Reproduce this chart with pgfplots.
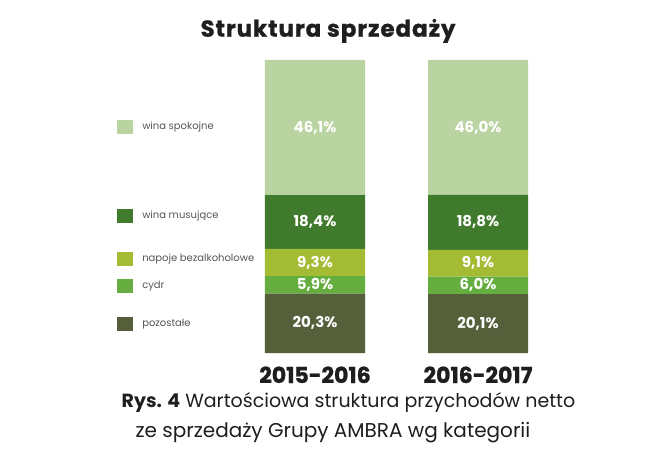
\documentclass[border=0pt]{standalone}
\usepackage{fontspec}
\setmainfont{Poppins}
\usepackage{pgfplots}
\pgfplotsset{compat=1.18}
\definecolor{cspok}{RGB}{185,212,160}
\definecolor{cmus}{RGB}{64,122,44}
\definecolor{cnap}{RGB}{163,188,52}
\definecolor{ccyd}{RGB}{102,173,64}
\definecolor{cpoz}{RGB}{85,95,58}
\definecolor{ctxt}{RGB}{30,30,30}
\definecolor{cleg}{RGB}{85,85,85}
\tikzset{
  seglbl/.style={text=white, font=\bfseries\fontsize{15bp}{17bp}\selectfont, anchor=center, inner sep=0pt},
  legbox/.style={fill=#1, draw=none, minimum width=16bp, minimum height=14bp, inner sep=0pt, anchor=center},
  leglbl/.style={anchor=west, inner sep=0pt, text=cleg, font=\fontsize{10bp}{12bp}\selectfont},
}
\begin{document}
\begin{tikzpicture}
\begin{axis}[
  ybar stacked, bar width=100bp,
  scale only axis, width=326bp, height=293bp,
  xmin=-0.5, xmax=1.5, ymin=0, ymax=100,
  axis line style={draw=none},
  xtick={0,1}, xticklabels={2015-2016,2016-2017},
  ytick=\empty, major tick length=0pt,
  xticklabel style={anchor=base, yshift=-30bp, text=ctxt, font=\bfseries\fontsize{22bp}{26bp}\selectfont\addfontfeature{FakeBold=1.2}},
  clip=false,
]
\addplot[fill=cpoz, draw=none] coordinates {(0,20.3) (1,20.1)};
\addplot[fill=ccyd, draw=none] coordinates {(0,5.9) (1,6.0)};
\addplot[fill=cnap, draw=none] coordinates {(0,9.3) (1,9.1)};
\addplot[fill=cmus, draw=none] coordinates {(0,18.4) (1,18.8)};
\addplot[fill=cspok, draw=none] coordinates {(0,46.1) (1,46.0)};
\coordinate (O) at (axis cs:-0.5,0);
\coordinate (a1) at (axis cs:0,10.15);
\coordinate (a2) at (axis cs:0,23.25);
\coordinate (a3) at (axis cs:0,30.85);
\coordinate (a4) at (axis cs:0,44.7);
\coordinate (a5) at (axis cs:0,76.95);
\coordinate (b1) at (axis cs:1,10.05);
\coordinate (b2) at (axis cs:1,23.1);
\coordinate (b3) at (axis cs:1,30.65);
\coordinate (b4) at (axis cs:1,44.6);
\coordinate (b5) at (axis cs:1,77);
\node[legbox=cspok] at (axis cs:-1.166,77.0) {};
\node[legbox=cmus] at (axis cs:-1.166,46.8) {};
\node[legbox=cnap] at (axis cs:-1.166,32.1) {};
\node[legbox=ccyd] at (axis cs:-1.166,22.9) {};
\node[legbox=cpoz] at (axis cs:-1.166,9.9) {};
\node[leglbl] at (axis cs:-1.061,77.0) {wina spokojne};
\node[leglbl] at (axis cs:-1.061,46.8) {wina musujące};
\node[leglbl] at (axis cs:-1.061,32.1) {napoje bezalkoholowe};
\node[leglbl] at (axis cs:-1.061,22.9) {cydr};
\node[leglbl] at (axis cs:-1.061,9.9) {pozostałe};
\node[anchor=base, inner sep=0pt, text=ctxt, font=\bfseries\fontsize{23bp}{27bp}\selectfont\addfontfeature{LetterSpace=4,FakeBold=1}] at (axis cs:0.08,107.95) {Struktura sprzedaży};
\node[anchor=base, inner sep=0pt, text=ctxt, font=\fontsize{19bp}{23bp}\selectfont] at (axis cs:0.2055,-18.53) {\textbf{Rys. 4} Wartościowa struktura przychodów netto};
\node[anchor=base, inner sep=0pt, text=ctxt, font=\fontsize{20bp}{24bp}\selectfont] at (axis cs:0.11,-29.0) {ze sprzedaży Grupy AMBRA wg kategorii};
\end{axis}
\node[seglbl] at (a1) {20,3\%};
\node[seglbl] at (a2) {5,9\%};
\node[seglbl] at (a3) {9,3\%};
\node[seglbl] at (a4) {18,4\%};
\node[seglbl] at (a5) {46,1\%};
\node[seglbl] at (b1) {20,1\%};
\node[seglbl] at (b2) {6,0\%};
\node[seglbl] at (b3) {9,1\%};
\node[seglbl] at (b4) {18,8\%};
\node[seglbl] at (b5) {46,0\%};
\pgfresetboundingbox
\path[use as bounding box] ([shift={(-233.5bp,-109bp)}]O) rectangle ++(656bp,462bp);
\end{tikzpicture}
\end{document}
